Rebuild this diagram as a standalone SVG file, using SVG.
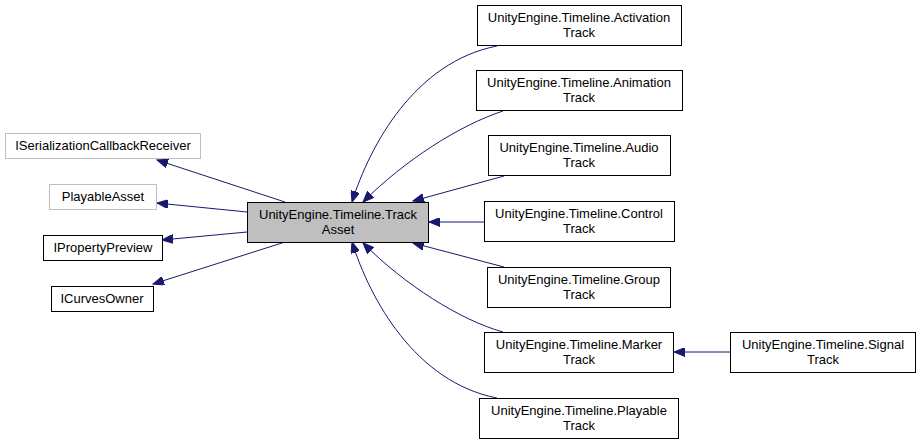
<svg xmlns="http://www.w3.org/2000/svg" width="920" height="444" viewBox="0 0 920 444">
<style>
.n{fill:#ffffff;stroke:#000000;stroke-width:1}
.g{fill:#ffffff;stroke:#bfbfbf;stroke-width:1}
.c{fill:#bfbfbf;stroke:#000000;stroke-width:1}
text{font-family:"Liberation Sans",Arial,sans-serif;font-size:13px;fill:#000000;text-anchor:middle}
.e{fill:none;stroke:#191970;stroke-width:1;marker-end:url(#ah)}
</style>
<defs>
<marker id="ah" markerUnits="userSpaceOnUse" markerWidth="12" markerHeight="9" refX="11" refY="4.5" orient="auto">
<path d="M0,0 L11,4.5 L0,9 z" fill="#191970" stroke="#191970" stroke-width="1"/>
</marker>
</defs>
<rect width="920" height="444" fill="#ffffff"/>
<g id="connectors">
<path class="e" d="M285,202 L157,160"/>
<path class="e" d="M247,212 L157,203"/>
<path class="e" d="M247,232 L162,240"/>
<path class="e" d="M285,242 L153,284"/>
<path class="e" d="M497,46 C415,62 370,145 352,202"/>
<path class="e" d="M503,111 C460,125 405,160 363,202"/>
<path class="e" d="M504,176 L413,201"/>
<path class="e" d="M484,222 L429,222"/>
<path class="e" d="M504,267 L413,243"/>
<path class="e" d="M503,332 C460,320 405,285 363,243"/>
<path class="e" d="M497,398 C415,382 370,299 352,242"/>
<path class="e" d="M730,352 L674,352"/>
</g>
<g id="node_trackasset">
<rect class="c" x="247.5" y="202.5" width="181" height="40"/>
<text x="338" y="219">UnityEngine.Timeline.Track</text>
<text x="338" y="234">Asset</text>
</g>
<g id="node_iserialization">
<rect class="g" x="5.5" y="133.5" width="195" height="25"/>
<text x="103" y="150">ISerializationCallbackReceiver</text>
</g>
<g id="node_playableasset">
<rect class="g" x="49.5" y="184.5" width="107" height="25"/>
<text x="103" y="201">PlayableAsset</text>
</g>
<g id="node_ipropertypreview">
<rect class="n" x="43.5" y="235.5" width="119" height="25"/>
<text x="103" y="252">IPropertyPreview</text>
</g>
<g id="node_icurvesowner">
<rect class="n" x="51.5" y="286.5" width="102" height="25"/>
<text x="102" y="303">ICurvesOwner</text>
</g>
<g id="node_activation">
<rect class="n" x="477.5" y="5.5" width="204" height="40"/>
<text x="579" y="22">UnityEngine.Timeline.Activation</text>
<text x="579" y="37">Track</text>
</g>
<g id="node_animation">
<rect class="n" x="476.5" y="70.5" width="206" height="40"/>
<text x="579" y="87">UnityEngine.Timeline.Animation</text>
<text x="579" y="102">Track</text>
</g>
<g id="node_audio">
<rect class="n" x="488.5" y="135.5" width="182" height="40"/>
<text x="579" y="152">UnityEngine.Timeline.Audio</text>
<text x="579" y="167">Track</text>
</g>
<g id="node_control">
<rect class="n" x="484.5" y="201.5" width="190" height="40"/>
<text x="579" y="218">UnityEngine.Timeline.Control</text>
<text x="579" y="233">Track</text>
</g>
<g id="node_group">
<rect class="n" x="487.5" y="267.5" width="183" height="40"/>
<text x="579" y="284">UnityEngine.Timeline.Group</text>
<text x="579" y="299">Track</text>
</g>
<g id="node_marker">
<rect class="n" x="484.5" y="332.5" width="189" height="40"/>
<text x="579" y="349">UnityEngine.Timeline.Marker</text>
<text x="579" y="364">Track</text>
</g>
<g id="node_playable">
<rect class="n" x="479.5" y="398.5" width="199" height="40"/>
<text x="579" y="415">UnityEngine.Timeline.Playable</text>
<text x="579" y="430">Track</text>
</g>
<g id="node_signal">
<rect class="n" x="730.5" y="332.5" width="185" height="40"/>
<text x="823" y="349">UnityEngine.Timeline.Signal</text>
<text x="823" y="364">Track</text>
</g>
</svg>
